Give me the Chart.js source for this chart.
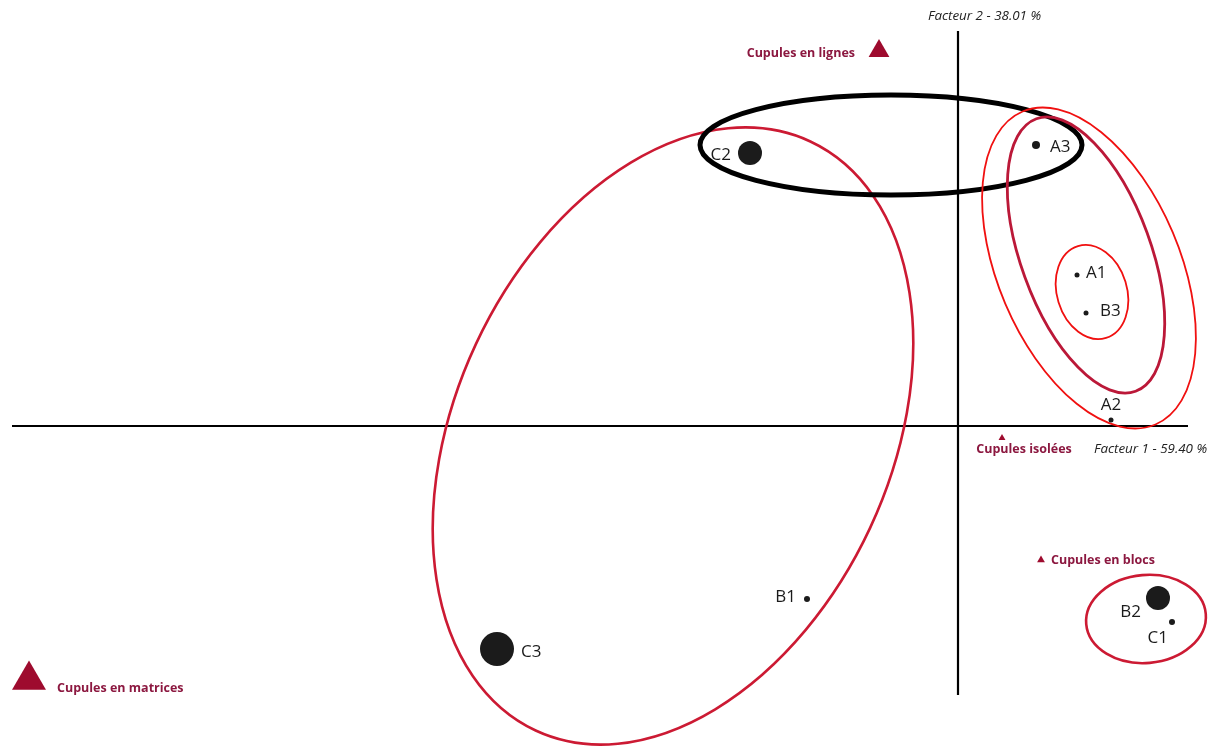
<!DOCTYPE html>
<html lang="fr">
<head>
<meta charset="utf-8">
<title>AFC cupules</title>
<script src="https://cdn.jsdelivr.net/npm/chart.js@4.4.1/dist/chart.umd.min.js"></script>
<style>
  html, body { margin: 0; padding: 0; background: #fff; }
  canvas { display: block; }
</style>
</head>
<body>
<canvas id="afc" width="1216" height="747"></canvas>
<script>
// Modalités (lignes) : coordonnées sur les facteurs 1 et 2
const pointNames = ["A1", "A2", "A3", "B1", "B2", "B3", "C1", "C2", "C3"];
const pointF1 = [1.19, 1.53, 0.78, -1.51, 2.00, 1.28, 2.14, -2.08, -4.61];
const pointF2 = [1.51, 0.06, 2.81, -1.73, -1.72, 1.13, -1.96, 2.73, -2.23];

// Types de cupules (colonnes)
const groupNames = ["Cupules en lignes", "Cupules isolées", "Cupules en blocs", "Cupules en matrices"];
const groupF1 = [-0.79, 0.44, 0.83, -9.29];
const groupF2 = [3.75, -0.12, -1.34, -2.54];

// Regroupements : centre, demi-axes et orientation (degrés) dans le plan factoriel
const hullCx = [-2.85, -0.67, 1.31, 1.28, 1.34, 1.88];
const hullCy = [-0.10, 2.81, 1.58, 1.71, 1.34, -1.93];
const hullA = [3.25, 1.91, 1.70, 1.45, 0.48, 0.60];
const hullB = [2.175, 0.50, 0.91, 0.65, 0.35, 0.44];
const hullAngle = [65, 0, 113, 110, 107, 5];

// Axes tracés
const axisF1Range = [-9.46, 2.30];
const axisF2Range = [-2.69, 3.95];
const axisTitles = ["Facteur 1 - 59.40 %", "Facteur 2 - 38.01 %"];

const crimson = "#cc1a33";
const brightRed = "#f01010";
const wine = "#9e0b2e";
const labelWine = "#8c1840";
const ink = "#1b1b1b";

const hullStyle = [
  { color: crimson, width: 2.6 },
  { color: "#000", width: 5 },
  { color: brightRed, width: 1.8 },
  { color: "#bb1838", width: 2.8 },
  { color: brightRed, width: 1.8 },
  { color: crimson, width: 2.6 }
];

const dotRadius = { A1: 2.5, A2: 2.5, A3: 4, B1: 3, B2: 12, B3: 2.5, C1: 3, C2: 12, C3: 17 };
const dotLabel = {
  A1: [9, -2, "left"], A2: [0, -15, "center"], A3: [14, 2, "left"],
  B1: [-11, -2, "right"], B2: [-17, 14, "right"], B3: [14, -2, "left"],
  C1: [-4, 16, "right"], C2: [-19, 2, "right"], C3: [24, 3, "left"]
};
const triRadius = [12, 4, 4.5, 19.6];
const triLabel = [[-24, 2, "right"], [22, 11, "center"], [10, 0, "left"], [28, 8, "left"]];

const ellipsesPlugin = {
  id: "ellipses",
  beforeDatasetsDraw(chart) {
    const { ctx, scales: { x, y } } = chart;
    const ppu = Math.abs(x.getPixelForValue(1) - x.getPixelForValue(0));
    ctx.save();
    // axes factoriels
    ctx.strokeStyle = "#000";
    ctx.lineWidth = 2.2;
    ctx.beginPath();
    ctx.moveTo(x.getPixelForValue(axisF1Range[0]), y.getPixelForValue(0));
    ctx.lineTo(x.getPixelForValue(axisF1Range[1]), y.getPixelForValue(0));
    ctx.moveTo(x.getPixelForValue(0), y.getPixelForValue(axisF2Range[0]));
    ctx.lineTo(x.getPixelForValue(0), y.getPixelForValue(axisF2Range[1]));
    ctx.stroke();

    ctx.font = "italic 13.4px 'Open Sans', sans-serif";
    ctx.fillStyle = "#222";
    ctx.textBaseline = "middle";
    ctx.textAlign = "left";
    ctx.fillText(axisTitles[0], x.getPixelForValue(axisF1Range[1]) - 94, y.getPixelForValue(0) + 23);
    ctx.fillText(axisTitles[1], x.getPixelForValue(0) - 30, y.getPixelForValue(axisF2Range[1]) - 15);

    hullCx.forEach((cx, i) => {
      ctx.beginPath();
      ctx.strokeStyle = hullStyle[i].color;
      ctx.lineWidth = hullStyle[i].width;
      ctx.ellipse(x.getPixelForValue(cx), y.getPixelForValue(hullCy[i]),
        hullA[i] * ppu, hullB[i] * ppu, -hullAngle[i] * Math.PI / 180, 0, Math.PI * 2);
      ctx.stroke();
    });
    ctx.restore();
  },
  afterDatasetsDraw(chart) {
    const { ctx } = chart;
    ctx.save();
    ctx.textBaseline = "middle";

    ctx.font = "17px 'Open Sans', sans-serif";
    ctx.fillStyle = ink;
    chart.getDatasetMeta(0).data.forEach((pt, i) => {
      const [dx, dy, align] = dotLabel[pointNames[i]];
      ctx.textAlign = align;
      ctx.fillText(pointNames[i], pt.x + dx, pt.y + dy);
    });

    ctx.font = "bold 12.5px 'Open Sans', sans-serif";
    ctx.fillStyle = labelWine;
    chart.getDatasetMeta(1).data.forEach((pt, i) => {
      const [dx, dy, align] = triLabel[i];
      ctx.textAlign = align;
      ctx.fillText(groupNames[i], pt.x + dx, pt.y + dy);
    });
    ctx.restore();
  }
};

new Chart(document.getElementById("afc"), {
  type: "scatter",
  data: {
    datasets: [
      {
        label: "Modalités",
        data: pointNames.map((n, i) => ({ x: pointF1[i], y: pointF2[i] })),
        pointRadius: pointNames.map(n => dotRadius[n]),
        pointBackgroundColor: ink,
        pointBorderWidth: 0
      },
      {
        label: "Types",
        data: groupNames.map((n, i) => ({ x: groupF1[i], y: groupF2[i] })),
        pointStyle: "triangle",
        pointRadius: triRadius,
        pointBackgroundColor: wine,
        pointBorderColor: wine,
        pointBorderWidth: 0
      }
    ]
  },
  options: {
    responsive: false,
    animation: false,
    layout: { padding: 0, autoPadding: false },
    plugins: { legend: { display: false }, tooltip: { enabled: false } },
    scales: {
      x: { type: "linear", min: -9.58, max: 2.58, display: false },
      y: { type: "linear", min: -3.21, max: 4.26, display: false }
    }
  },
  plugins: [ellipsesPlugin]
});
</script>
</body>
</html>
